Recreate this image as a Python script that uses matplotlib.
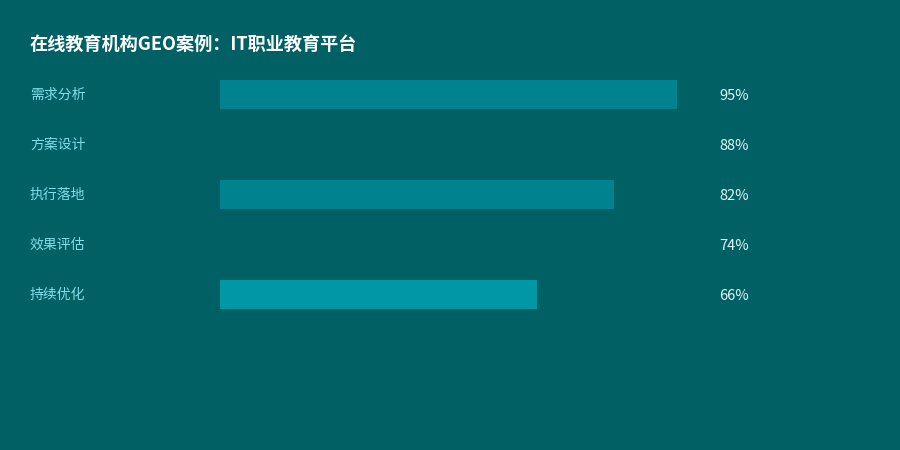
import matplotlib
matplotlib.use('Agg')
import matplotlib.pyplot as plt
import matplotlib.transforms as mtransforms

plt.rcParams['font.family'] = ['Noto Sans CJK SC', 'DejaVu Sans']

## Data ##
title = '在线教育机构GEO案例：IT职业教育平台'
stages = ['需求分析', '方案设计', '执行落地', '效果评估', '持续优化']
scores = [95, 88, 82, 74, 66]
bar_colors = ['#00838F', '#006064', '#00838F', '#006064', '#0097A7']

bg = '#006064'

fig = plt.figure(figsize=(9, 4.5), dpi=100, facecolor=bg)

# bar area: 220px -> 701px wide, rows 50px apart starting at y=69.5
ax = fig.add_axes([220/900, 1 - 319.5/450, 481/900, 250/450])
ax.set_facecolor(bg)
ax.set_xlim(0, 100)
ax.set_ylim(len(stages) - 0.5, -0.5)
ax.axis('off')

y = range(len(stages))
ax.barh(y, scores, height=0.58, color=bar_colors, edgecolor='none')

# labels left (figure x) and values right
trans_lab = mtransforms.blended_transform_factory(fig.transFigure, ax.transData)
for i, (name, val) in enumerate(zip(stages, scores)):
    ax.text(30/900, i, name, transform=trans_lab, ha='left', va='center',
            fontsize=10, color='#80DEEA', clip_on=False)
    ax.text(719/900, i + 0.025, '%d%%' % val, transform=trans_lab, ha='left', va='center',
            fontsize=10.5, color='#E0F7FA', clip_on=False)

fig.text(30/900, 1 - 44/450, title, ha='left', va='center',
         fontsize=13.1, fontweight='bold', color='white')

fig.savefig('out.png', dpi=100, facecolor=bg)
